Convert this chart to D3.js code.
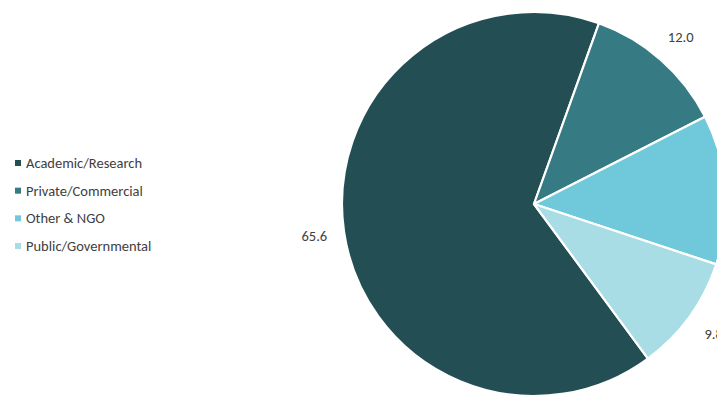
<!DOCTYPE html>
<html>
<head>
<meta charset="utf-8">
<script src="https://cdn.jsdelivr.net/npm/d3@7"></script>
<style>
  html, body { margin: 0; padding: 0; background: #fff; overflow: hidden; }
  svg { display: block; font-family: Carlito, Lato, "Open Sans", sans-serif; }
</style>
</head>
<body>
<svg id="chart" width="717" height="397"></svg>
<script>
// Sector share of respondents (%)
const categories = ["Academic/Research", "Private/Commercial", "Other & NGO", "Public/Governmental"];
const values = [65.6, 12.0, 12.6, 9.8];
const colors = ["#234e54", "#367a84", "#6fc9da", "#a8dde6"];

const width = 717, height = 397;
const cx = 534, cy = 204, radius = 192;
const startDeg = 143.6;

const svg = d3.select("#chart");

const color = d3.scaleOrdinal().domain(categories).range(colors);

const pie = d3.pie()
  .sort(null)
  .value(d => d.value)
  .startAngle(startDeg * Math.PI / 180)
  .endAngle((startDeg + 360) * Math.PI / 180);

const data = categories.map((c, i) => ({ name: c, value: values[i] }));
const arcs = pie(data);

const arc = d3.arc().innerRadius(0).outerRadius(radius);
const labelArc = d3.arc().innerRadius(radius + 30).outerRadius(radius + 30);

const g = svg.append("g").attr("transform", `translate(${cx},${cy})`);

g.selectAll("path.slice")
  .data(arcs)
  .join("path")
  .attr("class", "slice")
  .attr("d", arc)
  .attr("fill", d => color(d.data.name))
  .attr("stroke", "#ffffff")
  .attr("stroke-width", 2.2)
  .attr("stroke-linejoin", "round");

// value labels outside each slice
g.selectAll("text.value")
  .data(arcs)
  .join("text")
  .attr("class", "value")
  .attr("transform", d => {
    const [x, y] = labelArc.centroid(d);
    return `translate(${x},${y})`;
  })
  .attr("text-anchor", "middle")
  .attr("dy", "0.35em")
  .attr("font-size", 14.5)
  .attr("fill", "#404040")
  .text(d => d.data.value.toFixed(1));

// legend
const legendScale = d3.scalePoint().domain(categories).range([163, 246]);
const legend = svg.append("g");
const item = legend.selectAll("g")
  .data(categories)
  .join("g")
  .attr("transform", d => `translate(15,${legendScale(d)})`);
item.append("rect")
  .attr("x", 0).attr("y", -3)
  .attr("width", 6).attr("height", 6)
  .attr("fill", d => color(d));
item.append("text")
  .attr("x", 11)
  .attr("dy", "0.35em")
  .attr("font-size", 14.5)
  .attr("fill", "#404040")
  .text(d => d);
</script>
</body>
</html>
